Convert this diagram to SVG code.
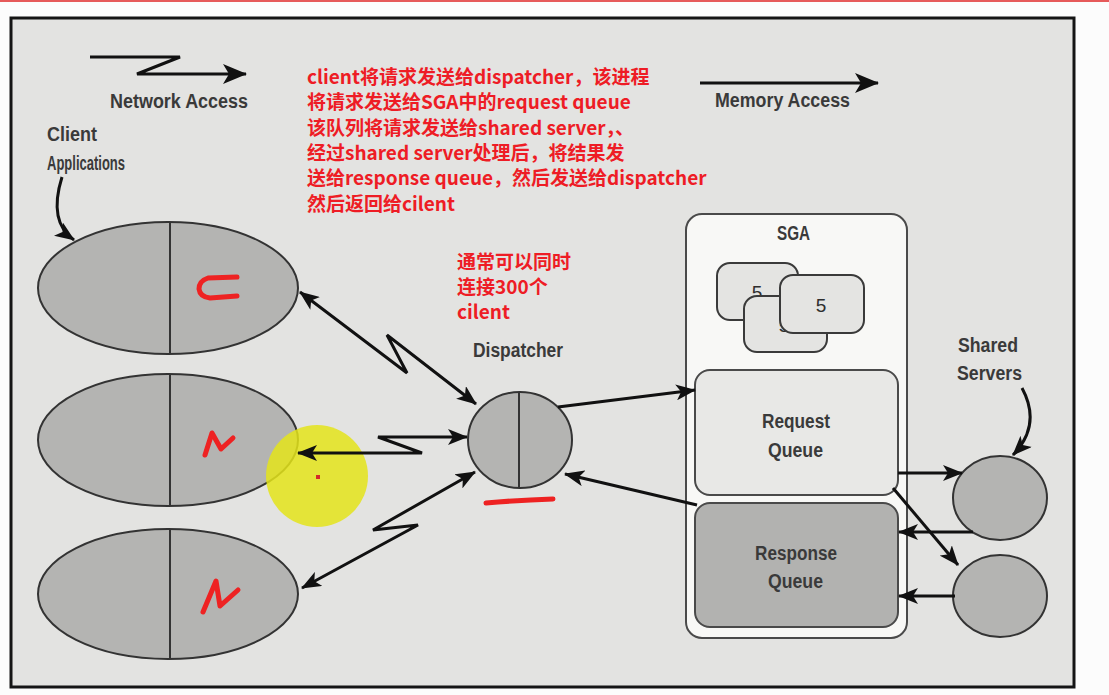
<svg xmlns="http://www.w3.org/2000/svg" width="1109" height="695" viewBox="0 0 1109 695">
<style>
.lbl{font-family:"Liberation Sans",Arial,sans-serif;font-size:20px;font-weight:bold;fill:#3a3a3a;}
.num{font-family:"Liberation Sans",Arial,sans-serif;font-size:19px;fill:#2e2e2e;text-anchor:middle;}
.red{font-family:"Noto Sans CJK SC",sans-serif;font-size:19px;font-weight:bold;fill:#ee1c25;}
.ell{fill:#b4b4b2;stroke:#333;stroke-width:2;}
.div{stroke:#333;stroke-width:2;}
.con{fill:none;stroke:#111;stroke-width:3;stroke-linejoin:miter;}
.mark{fill:none;stroke:#ee2222;stroke-width:5;stroke-linecap:round;stroke-linejoin:round;}
.box5{fill:#e4e4e2;stroke:#3a3a3a;stroke-width:2;}
</style>
<defs>
<marker id="ah" viewBox="0 0 20 16" refX="19" refY="8" markerWidth="20" markerHeight="16" markerUnits="userSpaceOnUse" orient="auto-start-reverse">
<path d="M0,0 L20,8 L0,16 L5,8 z" fill="#111"/>
</marker>
<marker id="ahL" viewBox="0 0 24 20" refX="23" refY="10" markerWidth="24" markerHeight="20" markerUnits="userSpaceOnUse" orient="auto">
<path d="M0,0 L24,10 L0,20 L6,10 z" fill="#111"/>
</marker>
</defs>
<rect x="0" y="0" width="1109" height="695" fill="#fcfcfc"/>
<rect x="0" y="0" width="1109" height="2" fill="#e65a5a"/>
<rect id="frame" x="11" y="18" width="1063" height="669" fill="#e3e3e1" stroke="#151515" stroke-width="3"/>

<g id="legend-network">
<path class="con" d="M90,57 L180,57 L137,74 L246,74" marker-end="url(#ahL)" stroke-width="3.5"/>
<text class="lbl" x="110" y="108" textLength="138" lengthAdjust="spacingAndGlyphs">Network Access</text>
</g>
<g id="legend-memory">
<path class="con" d="M700,83 L878,83" marker-end="url(#ahL)" stroke-width="3.5"/>
<text class="lbl" x="715" y="107" textLength="135" lengthAdjust="spacingAndGlyphs">Memory Access</text>
</g>

<g id="note-main">
<text class="red" x="307" y="84">client将请求发送给dispatcher，该进程</text>
<text class="red" x="307" y="109">将请求发送给SGA中的request queue</text>
<text class="red" x="307" y="135">该队列将请求发送给shared server，、</text>
<text class="red" x="307" y="160">经过shared server处理后，将结果发</text>
<text class="red" x="307" y="185">送给response queue，然后发送给dispatcher</text>
<text class="red" x="307" y="211">然后返回给cilent</text>
</g>
<g id="note-dispatcher">
<text class="red" x="457" y="269">通常可以同时</text>
<text class="red" x="457" y="294">连接300个</text>
<text class="red" x="457" y="319">cilent</text>
</g>

<g id="client-label">
<text class="lbl" x="47" y="141" textLength="50" lengthAdjust="spacingAndGlyphs">Client</text>
<text class="lbl" x="47" y="170" textLength="78" lengthAdjust="spacingAndGlyphs">Applications</text>
</g>

<g id="client1">
<ellipse class="ell" cx="168" cy="288" rx="130" ry="66"/>
<line class="div" x1="170" y1="222" x2="170" y2="354"/>
<path class="mark" d="M237,277 L208,278 Q199,281 199,289 Q200,297 210,298 L237,296"/>
</g>
<g id="client2">
<ellipse class="ell" cx="168" cy="440" rx="130" ry="66"/>
<line class="div" x1="170" y1="374" x2="170" y2="506"/>
<path class="mark" d="M205,455 L212,433 L221,449 L233,438"/>
</g>
<g id="client3">
<ellipse class="ell" cx="168" cy="594" rx="130" ry="65"/>
<line class="div" x1="170" y1="529" x2="170" y2="659"/>
<path class="mark" d="M203,612 L216,581 L220,606 L238,590"/>
</g>

<g id="highlight">
<circle cx="317" cy="476" r="51" fill="#e4e41a" fill-opacity="0.85"/>
<rect x="316" y="475" width="4" height="4" fill="#d42a2a"/>
</g>

<g id="dispatcher">
<text class="lbl" x="473" y="357" textLength="90" lengthAdjust="spacingAndGlyphs">Dispatcher</text>
<ellipse class="ell" cx="520" cy="440" rx="52" ry="48" fill="#b0b0ae"/>
<line class="div" x1="519" y1="392" x2="519" y2="488" stroke-width="2.5"/>
<path class="mark" d="M486,503 Q520,500 553,499"/>
</g>

<g id="sga">
<rect x="686" y="214" width="221" height="424" rx="16" fill="#f8f8f6" stroke="#4a4a4a" stroke-width="2"/>
<text class="lbl" x="777" y="240" textLength="33" lengthAdjust="spacingAndGlyphs">SGA</text>
<g id="sga-blocks">
<rect class="box5" x="717" y="263" width="81" height="57" rx="13"/>
<text class="num" x="757" y="299">5</text>
<rect class="box5" x="744" y="296" width="83" height="56" rx="13"/>
<text class="num" x="784" y="332">5</text>
<rect class="box5" x="780" y="275" width="84" height="58" rx="13"/>
<text class="num" x="821" y="312">5</text>
</g>
</g>
<g id="request-queue">
<rect x="695" y="370" width="203" height="125" rx="15" fill="#e8e8e6" stroke="#4a4a4a" stroke-width="2"/>
<text class="lbl" x="762" y="428" textLength="68" lengthAdjust="spacingAndGlyphs">Request</text>
<text class="lbl" x="768" y="457" textLength="55" lengthAdjust="spacingAndGlyphs">Queue</text>
</g>
<g id="response-queue">
<rect x="695" y="503" width="203" height="124" rx="15" fill="#b2b2b0" stroke="#4a4a4a" stroke-width="2"/>
<text class="lbl" x="755" y="560" textLength="82" lengthAdjust="spacingAndGlyphs">Response</text>
<text class="lbl" x="768" y="588" textLength="55" lengthAdjust="spacingAndGlyphs">Queue</text>
</g>

<g id="servers-label">
<text class="lbl" x="958" y="352" textLength="60" lengthAdjust="spacingAndGlyphs">Shared</text>
<text class="lbl" x="957" y="380" textLength="65" lengthAdjust="spacingAndGlyphs">Servers</text>
</g>
<g id="server1">
<ellipse class="ell" cx="1000" cy="498" rx="47" ry="42"/>
</g>
<g id="server2">
<ellipse class="ell" cx="1000" cy="596" rx="47" ry="41"/>
</g>

<g id="connectors">
<path class="con" d="M62,177 Q48,222 74,240" marker-end="url(#ah)" stroke-width="2.5"/>
<path class="con" d="M1022,388 Q1042,425 1013,455" marker-end="url(#ah)" stroke-width="2.5"/>
<path class="con" d="M300,292 L407,373 L387,335 L476,404" marker-start="url(#ah)" marker-end="url(#ah)"/>
<path class="con" d="M467,437 L378,437 L422,453 L298,453" marker-start="url(#ah)" marker-end="url(#ah)"/>
<path class="con" d="M475,472 L373,530 L418,525 L302,588" marker-start="url(#ah)" marker-end="url(#ah)"/>
<path class="con" d="M558,407 L695,390" marker-end="url(#ah)"/>
<path class="con" d="M697,505 L565,474" marker-end="url(#ah)"/>
<path class="con" d="M898,473 L962,473" marker-end="url(#ah)"/>
<path class="con" d="M893,488 L958,565" marker-end="url(#ah)"/>
<path class="con" d="M973,532 L899,532" marker-end="url(#ah)"/>
<path class="con" d="M955,596 L899,596" marker-end="url(#ah)"/>
</g>
</svg>
